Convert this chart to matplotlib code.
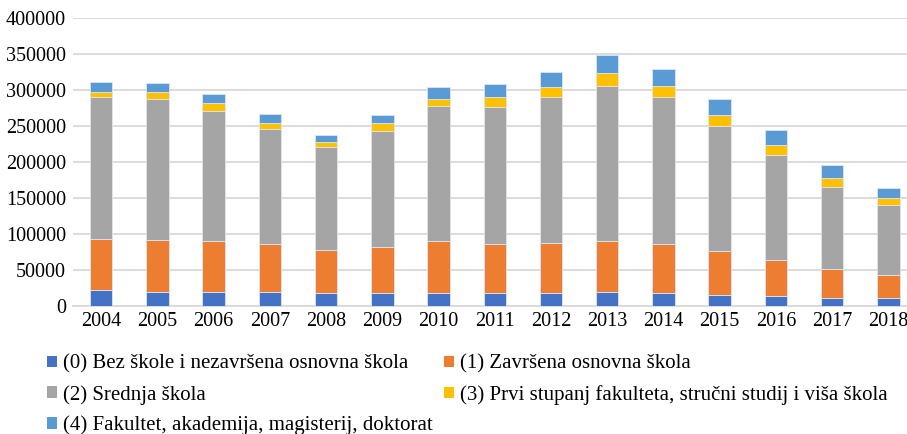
import numpy as np
import matplotlib
matplotlib.use("Agg")
from matplotlib import pyplot as plt
from matplotlib.patches import Patch

plt.rcParams['font.family'] = ['Liberation Serif', 'DejaVu Serif']

years = ['2004', '2005', '2006', '2007', '2008', '2009', '2010', '2011',
         '2012', '2013', '2014', '2015', '2016', '2017', '2018']

# Number of people by education level, stacked bottom to top
bez_skole = [21800, 19900, 19900, 19900, 17600, 17600, 17600, 17600,
             17600, 19900, 17600, 15300, 13900, 11500, 11500]
osnovna = [71700, 71800, 69900, 65800, 60200, 64300, 72200, 68500,
           70300, 69900, 68500, 60700, 50000, 39900, 32000]
srednja = [196400, 195800, 181500, 160100, 143500, 161600, 188000, 189800,
           201900, 215800, 203700, 174000, 145800, 114300, 96300]
prvi_stupanj = [7700, 10100, 10200, 7900, 6500, 10200, 9700, 13900,
                13900, 18000, 15800, 15300, 13900, 12100, 10200]
fakultet = [13900, 12100, 12500, 12500, 9700, 12000, 16200, 18500,
            21700, 24600, 24000, 22200, 20400, 17600, 13500]

series = [bez_skole, osnovna, srednja, prvi_stupanj, fakultet]
labels = ['(0) Bez škole i nezavršena osnovna škola',
          '(1) Završena osnovna škola',
          '(2) Srednja škola',
          '(3) Prvi stupanj fakulteta, stručni studij i viša škola',
          '(4) Fakultet, akademija, magisterij, doktorat']
colors = ['#4472C4', '#ED7D31', '#A5A5A5', '#FFC000', '#5B9BD5']

fig = plt.figure(figsize=(9.07, 4.34), dpi=100)
ax = fig.add_axes([0.0805, 0.295, 0.93, 0.6635])

x = np.arange(len(years))
bottom = np.zeros(len(years))
for values, color in zip(series, colors):
    ax.bar(x, values, width=0.4, bottom=bottom, color=color,
           edgecolor='#dce6f2', linewidth=0.6, zorder=3)
    bottom += np.array(values)

ax.set_xlim(-0.5, len(years) - 0.5)
ax.set_ylim(0, 400000)
ax.set_yticks(np.arange(0, 400001, 50000))
ax.set_xticks(x)
ax.set_xticklabels(years)
ax.yaxis.grid(True, color='#d9d9d9', linewidth=1.3, zorder=0)
ax.set_axisbelow(True)
for side in ['top', 'right', 'left']:
    ax.spines[side].set_visible(False)
ax.spines['bottom'].set_color('#d9d9d9')
ax.spines['bottom'].set_linewidth(1.3)
ax.tick_params(axis='both', length=0, labelsize=14.5, colors='#000000')
ax.tick_params(axis='y', pad=5)
ax.tick_params(axis='x', pad=4)

# Legend: two columns, filled column-wise, so reorder the entries
handles = [Patch(facecolor=c, edgecolor='none') for c in colors]
order = [0, 2, 4, 1, 3]
fig.legend([handles[i] for i in order], [labels[i] for i in order],
           loc='upper left', bbox_to_anchor=(0.052, 0.183), ncol=2,
           frameon=False, fontsize=15, handlelength=0.48, handleheight=0.48,
           handletextpad=0.3, columnspacing=0.5, labelspacing=0.53,
           borderpad=0, borderaxespad=0)

fig.savefig('out.png', dpi=100)
